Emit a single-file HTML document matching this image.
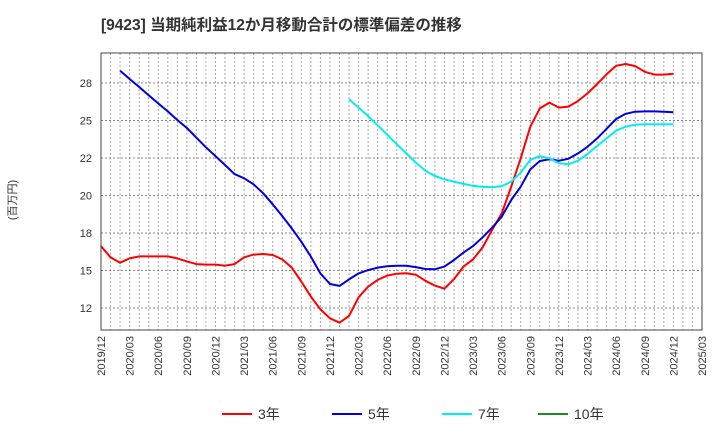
<!DOCTYPE html>
<html><head><meta charset="utf-8"><style>
body{margin:0;background:#fff;}
svg text{font-family:"Liberation Sans","Noto Sans CJK JP",sans-serif;}
</style></head><body>
<svg id="c" width="720" height="440" xmlns="http://www.w3.org/2000/svg">
<text x="101" y="30" font-size="15.5" font-weight="bold" fill="#333">[9423]  当期純利益12か月移動合計の標準偏差の推移</text>
<text transform="translate(16,200) rotate(-90)" font-size="11" text-anchor="middle" fill="#333">(百万円)</text>
<g id="grid"></g><g id="series"></g><g id="axes"></g>
<rect x="101" y="53" width="601" height="277" fill="none" stroke="#444" stroke-width="1"/>
<g id="legend"></g>
</svg>
<script>
const yTicks=[12.5,15,17.5,20,22.5,25,27.5];
const yTickLabels=["12","15","18","20","22","25","28"];
const xTickLabels=["2019/12","2020/03","2020/06","2020/09","2020/12","2021/03","2021/06","2021/09","2021/12","2022/03","2022/06","2022/09","2022/12","2023/03","2023/06","2023/09","2023/12","2024/03","2024/06","2024/09","2024/12","2025/03"];
const s3=[16.63,15.88,15.52,15.81,15.94,15.94,15.94,15.94,15.81,15.61,15.43,15.39,15.39,15.32,15.43,15.88,16.06,16.1,16.03,15.74,15.19,14.26,13.26,12.41,11.81,11.52,11.97,13.21,13.92,14.37,14.66,14.79,14.82,14.72,14.32,13.99,13.79,14.43,15.26,15.74,16.54,17.7,18.81,20.59,22.48,24.59,25.81,26.19,25.86,25.93,26.3,26.81,27.43,28.08,28.65,28.77,28.63,28.25,28.06,28.06,28.12];
const s5=[null,null,28.32,27.77,27.23,26.68,26.14,25.61,25.03,24.5,23.85,23.21,22.63,22.03,21.43,21.15,20.75,20.15,19.41,18.63,17.81,16.92,15.92,14.81,14.1,13.97,14.41,14.81,15.03,15.19,15.28,15.32,15.32,15.23,15.1,15.08,15.26,15.7,16.19,16.63,17.21,17.85,18.59,19.7,20.59,21.74,22.3,22.41,22.32,22.45,22.81,23.25,23.81,24.45,25.1,25.45,25.59,25.61,25.61,25.59,25.55];
const s7=[null,null,null,null,null,null,null,null,null,null,null,null,null,null,null,null,null,null,null,null,null,null,null,null,null,null,26.41,25.86,25.3,24.68,24.06,23.43,22.81,22.19,21.66,21.3,21.08,20.92,20.77,20.65,20.57,20.55,20.63,20.92,21.52,22.37,22.63,22.48,22.15,22.08,22.32,22.77,23.3,23.81,24.32,24.59,24.72,24.75,24.75,24.75,24.75];
const s10=[];
const NS="http://www.w3.org/2000/svg";
const X0=101,X1=702,months=63;
function xs(i){return X0+(X1-X0)*i/months;}
function ys(v){return 308-(v-12.5)*15;}
function mk(t,a,p){const e=document.createElementNS(NS,t);for(const k in a)e.setAttribute(k,a[k]);p.appendChild(e);return e;}
const grid=document.getElementById('grid'),axes=document.getElementById('axes'),ser=document.getElementById('series'),leg=document.getElementById('legend');
for(let i=1;i<months;i++){const l=mk('line',{x1:xs(i),x2:xs(i),y1:53,y2:330,stroke:'#aaa','stroke-dasharray':'2,2','stroke-width':1},grid);

}
yTicks.forEach((v,k)=>{const l=mk('line',{x1:X0,x2:X1,y1:ys(v),y2:ys(v),stroke:'#888','stroke-dasharray':'2,2','stroke-width':1},grid);


const t=mk('text',{x:92,y:ys(v)+4,'font-size':11,'text-anchor':'end',fill:'#333'},axes);t.textContent=yTickLabels[k];

});
xTickLabels.forEach((s,k)=>{const x=xs(k*3);const t=mk('text',{transform:`translate(${x+4},336) rotate(-90)`,'font-size':11,'text-anchor':'end',fill:'#333'},axes);t.textContent=s;

});
function draw(arr,col,name){let d='';arr.forEach((v,i)=>{if(v==null)return;d+=(d?'L':'M')+xs(i).toFixed(1)+','+ys(v).toFixed(1);});
if(!d)return;const p=mk('path',{d:d,fill:'none',stroke:col,'stroke-width':2,'stroke-linejoin':'round'},ser);

}
draw(s3,'#ff0000','series-3y');draw(s5,'#0000dd','series-5y');draw(s7,'#00eeee','series-7y');draw(s10,'#228822','series-10y');
const legItems=[['3年','#ff0000',222],['5年','#0000dd',332],['7年','#00eeee',442],['10年','#228822',538]];
legItems.forEach(([lab,col,x])=>{const g=mk('g',{},leg);


mk('line',{x1:x,x2:x+30,y1:414,y2:414,stroke:col,'stroke-width':2},g);
const t=mk('text',{x:x+36,y:419,'font-size':14,fill:'#333'},g);t.textContent=lab;});
</script>
</body></html>
